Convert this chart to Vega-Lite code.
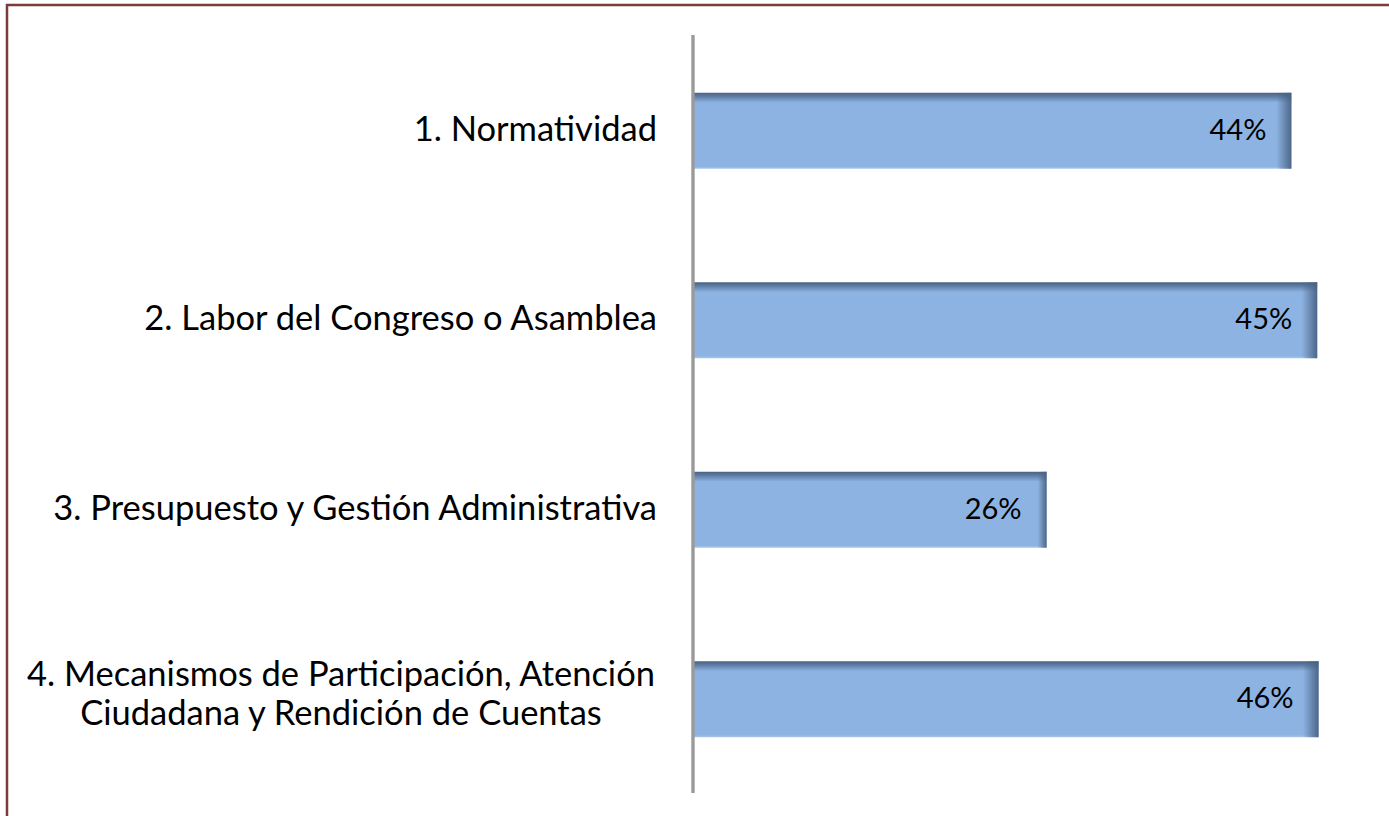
{
  "$schema": "https://vega.github.io/schema/vega-lite/v6.json",
  "width": 1390,
  "height": 820,
  "autosize": "none",
  "padding": {"left": 7, "top": 5, "right": 0, "bottom": 0},
  "background": "white",
  "config": {
    "view": {"stroke": "#7b3b3b", "strokeWidth": 2.5},
    "text": {"font": "Lato"}
  },
  "data": {
    "values": [
      {"cat": "1. Normatividad", "value": 0.44, "label": "44%"},
      {"cat": "2. Labor del Congreso o Asamblea", "value": 0.459, "label": "45%"},
      {"cat": "3. Presupuesto y Gestión Administrativa", "value": 0.26, "label": "26%"},
      {"cat": "4. Mecanismos de Participación, Atención|Ciudadana y Rendición de Cuentas", "value": 0.46, "label": "46%"}
    ]
  },
  "encoding": {
    "y": {
      "field": "cat",
      "type": "nominal",
      "sort": null,
      "axis": null,
      "scale": {"paddingInner": 0.6, "paddingOuter": 0.4636}
    }
  },
  "layer": [
    {
      "mark": {
        "type": "bar",
        "fill": {
          "gradient": "linear",
          "x1": 0, "y1": 0, "x2": 0, "y2": 1,
          "stops": [
            {"offset": 0, "color": "#4a6283"},
            {"offset": 0.05, "color": "#5f7ea6"},
            {"offset": 0.13, "color": "#8db3e2"},
            {"offset": 0.97, "color": "#8db3e2"},
            {"offset": 1, "color": "#a9c6ea"}
          ]
        }
      },
      "encoding": {
        "x": {
          "field": "value",
          "type": "quantitative",
          "axis": null,
          "scale": {"domain": [-0.50441, 0.51765], "nice": false, "zero": false}
        }
      }
    },
    {
      "mark": {
        "type": "bar",
        "fill": {
          "gradient": "linear",
          "x1": 0, "y1": 0, "x2": 1, "y2": 0,
          "stops": [
            {"offset": 0, "color": "rgba(74,98,131,0)"},
            {"offset": 0.975, "color": "rgba(74,98,131,0)"},
            {"offset": 1, "color": "rgba(74,98,131,0.95)"}
          ]
        }
      },
      "encoding": {
        "x": {"field": "value", "type": "quantitative"}
      }
    },
    {
      "mark": {"type": "rule", "color": "#9a9a9a", "strokeWidth": 2.5},
      "encoding": {
        "x": {"datum": 0, "type": "quantitative"},
        "y": {"datum": "1. Normatividad", "type": "nominal", "bandPosition": -0.763},
        "y2": {"datum": "4. Mecanismos de Participación, Atención|Ciudadana y Rendición de Cuentas", "bandPosition": 1.737}
      }
    },
    {
      "mark": {"type": "text", "align": "right", "baseline": "middle", "dx": -25, "fontSize": 29, "color": "#000000"},
      "encoding": {
        "x": {"field": "value", "type": "quantitative"},
        "text": {"field": "label"}
      }
    },
    {
      "transform": [{"filter": "indexof(datum.cat, '|') < 0"}],
      "mark": {"type": "text", "align": "right", "baseline": "middle", "dx": -36, "fontSize": 34.5, "color": "#000000"},
      "encoding": {
        "x": {"datum": 0, "type": "quantitative"},
        "text": {"field": "cat"}
      }
    },
    {
      "transform": [{"filter": "indexof(datum.cat, '|') >= 0"}],
      "mark": {"type": "text", "align": "center", "baseline": "middle", "dx": -352, "dy": -23, "fontSize": 34.5, "lineBreak": "|", "lineHeight": 39, "color": "#000000"},
      "encoding": {
        "x": {"datum": 0, "type": "quantitative"},
        "text": {"field": "cat"}
      }
    }
  ]
}
